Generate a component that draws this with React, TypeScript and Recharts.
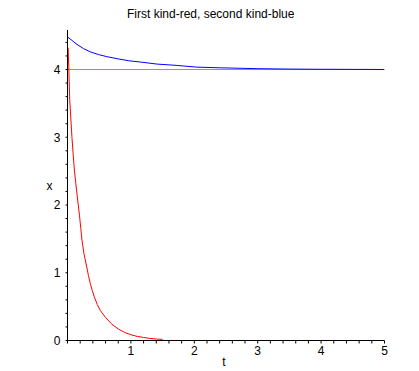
import { LineChart, Line, XAxis, YAxis } from 'recharts';

// t values and readings for the first kind (red)
const redT = [0.01, 0.02, 0.035, 0.053, 0.07, 0.09, 0.11, 0.13, 0.15, 0.17, 0.19, 0.21, 0.23, 0.26, 0.3, 0.33, 0.36, 0.39, 0.42, 0.47, 0.52, 0.6, 0.7, 0.8, 0.9, 1.0, 1.1, 1.2, 1.3, 1.4, 1.5];
const redX = [4.32, 4.04, 3.55, 3.27, 3.0, 2.74, 2.5, 2.33, 2.16, 2.0, 1.84, 1.65, 1.47, 1.28, 1.1, 0.96, 0.84, 0.74, 0.65, 0.53, 0.44, 0.34, 0.24, 0.17, 0.12, 0.085, 0.06, 0.045, 0.03, 0.022, 0.016];

// second kind (blue)
const blueT = [0, 0.07, 0.15, 0.25, 0.36, 0.49, 0.62, 0.78, 0.96, 1.15, 1.41, 1.73, 2.04, 2.4, 3.0, 3.5, 4.0, 5.0];
const blueX = [4.48, 4.43, 4.37, 4.31, 4.26, 4.22, 4.19, 4.16, 4.13, 4.11, 4.08, 4.06, 4.035, 4.025, 4.012, 4.006, 4.003, 4.0];

// equilibrium line
const levelT = [0, 5];
const levelX = [4, 4];

const xTicks = [0, 0.2, 0.4, 0.6, 0.8, 1, 1.2, 1.4, 1.6, 1.8, 2, 2.2, 2.4, 2.6, 2.8, 3, 3.2, 3.4, 3.6, 3.8, 4, 4.2, 4.4, 4.6, 4.8, 5];
const xLabels = ['', '1', '2', '3', '4', '5'];
const yTicks = [0, 0.2, 0.4, 0.6, 0.8, 1, 1.2, 1.4, 1.6, 1.8, 2, 2.2, 2.4, 2.6, 2.8, 3, 3.2, 3.4, 3.6, 3.8, 4, 4.2, 4.4];
const yLabels = ['0', '1', '2', '3', '4'];

const red = redT.map((t, i) => ({ t, x: redX[i] }));
const blue = blueT.map((t, i) => ({ t, x: blueX[i] }));
const level = levelT.map((t, i) => ({ t, x: levelX[i] }));

const font = '"Liberation Sans", Arial, sans-serif';

const intLabel = (labels: string[]) => (v: number) =>
  Math.abs(v - Math.round(v)) < 1e-6 ? labels[Math.round(v)] ?? '' : '';

export default function App() {
  return (
    <div style={{ position: 'absolute', left: 0, top: 0, width: 419, height: 371, background: '#fff', fontFamily: font }}>
      <div style={{ position: 'absolute', left: 127, top: 7, fontSize: 12, whiteSpace: 'nowrap', color: '#000' }}>
        First kind-red, second kind-blue
      </div>
      {/* half-pixel margins keep the axis lines crisp */}
      <LineChart width={419} height={371} margin={{ top: 30, right: 34.5, left: 0.5, bottom: 0.5 }}>
        <XAxis
          dataKey="t"
          type="number"
          domain={[0, 5]}
          ticks={xTicks}
          tickFormatter={intLabel(xLabels)}
          allowDataOverflow
          height={30}
          stroke="#000"
          tickSize={3}
          tickMargin={3}
          tick={{ fontSize: 12, fill: '#000', fontFamily: font }}
          label={{ value: 't', position: 'insideBottom', offset: 5, dx: -2, fontSize: 12, fill: '#000', fontFamily: font }}
        />
        <YAxis
          dataKey="x"
          type="number"
          domain={[0, 4.583]}
          ticks={yTicks}
          tickFormatter={intLabel(yLabels)}
          allowDataOverflow
          width={67}
          stroke="#000"
          tickSize={2}
          tickMargin={5}
          tick={{ fontSize: 12, fill: '#000', fontFamily: font }}
          label={{ value: 'x', position: 'insideLeft', offset: 46, fontSize: 12, fill: '#000', fontFamily: font }}
        />
        <Line data={level} dataKey="x" stroke="#00ff00" strokeWidth={1} dot={false} isAnimationActive={false} />
        <Line data={blue} dataKey="x" stroke="#0000ff" strokeWidth={1} dot={false} isAnimationActive={false} />
        <Line data={red} dataKey="x" stroke="#ff0000" strokeWidth={1} dot={false} isAnimationActive={false} />
      </LineChart>
    </div>
  );
}
